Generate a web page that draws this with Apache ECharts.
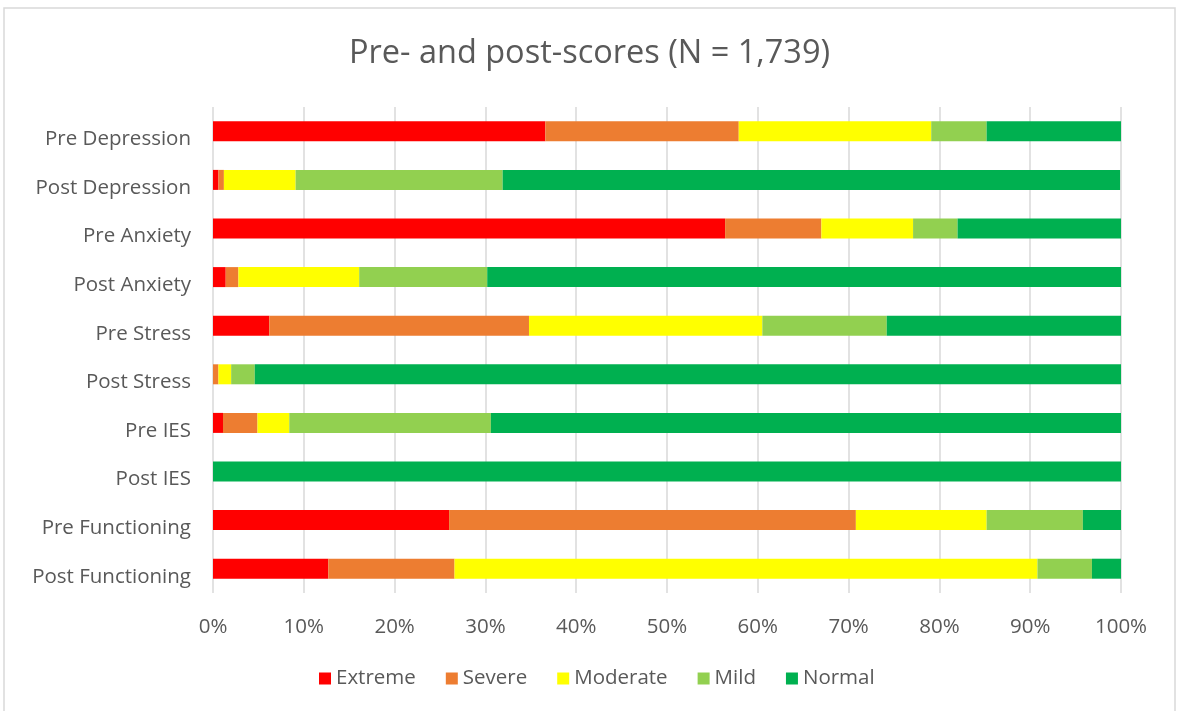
<!DOCTYPE html>
<html>
<head>
<meta charset="utf-8">
<script src="https://cdn.jsdelivr.net/npm/echarts@6/dist/echarts.min.js"></script>
<style>html,body{margin:0;padding:0;background:#fff;}#c{width:1179px;height:711px;}</style>
</head>
<body>
<div id="c"></div>
<script>
const categories = ['Pre Depression','Post Depression','Pre Anxiety','Post Anxiety','Pre Stress','Post Stress','Pre IES','Post IES','Pre Functioning','Post Functioning'];
const extreme  = [36.6, 0.6, 56.4, 1.4, 6.2, 0.0, 1.1, 0, 26.0, 12.7];
const severe   = [21.3, 0.6, 10.6, 1.4, 28.6, 0.6, 3.8, 0, 44.8, 13.9];
const moderate = [21.2, 7.9, 10.1, 13.3, 25.7, 1.4, 3.5, 0, 14.4, 64.2];
const mild     = [6.1, 22.8, 4.9, 14.1, 13.7, 2.6, 22.2, 0, 10.6, 6.0];
const normal   = [14.8, 68.0, 18.0, 69.8, 25.8, 95.4, 69.4, 100, 4.2, 3.2];
const seriesNames = ['Extreme','Severe','Moderate','Mild','Normal'];
const colors = ['#ff0000','#ed7d31','#ffff00','#92d050','#00b050'];
const xTicks = [0,10,20,30,40,50,60,70,80,90,100];

const FONT = 'Open Sans';
const chart = echarts.init(document.getElementById('c'), null, {renderer:'canvas'});
const dataSets = [extreme, severe, moderate, mild, normal];
chart.setOption({
  backgroundColor:'#fff',
  animation:false,
  color: colors,
  title:{text:'Pre- and post-scores (N = 1,739)', left:'center', top:32,
    textStyle:{fontFamily:FONT, fontSize:32.5, fontWeight:'normal', color:'#595959'}},
  graphic:[{type:'rect', shape:{x:4,y:8,width:1171,height:710}, style:{fill:'none', stroke:'#d9d9d9', lineWidth:1.5}, silent:true}],
  legend:{data:seriesNames, bottom:17, left:314, itemWidth:12, itemHeight:12, itemGap:30, icon:'rect',
    textStyle:{fontFamily:FONT, fontSize:20.5, color:'#595959'}},
  grid:{left:213, right:58, top:107, bottom:118, containLabel:false},
  xAxis:{type:'value', min:0, max:100, interval:10,
    axisLabel:{formatter:'{value}%', fontFamily:FONT, fontSize:20.5, color:'#595959', margin:24},
    axisLine:{show:false}, axisTick:{show:false},
    splitLine:{show:true, lineStyle:{color:'#d9d9d9', width:1.5}}},
  yAxis:{type:'category', data:categories, inverse:true,
    axisLabel:{fontFamily:FONT, fontSize:20.5, color:'#595959', margin:22, verticalAlign:'top', lineHeight:16},
    axisLine:{show:false}, axisTick:{show:false}},
  series: seriesNames.map((n,i)=>({name:n, type:'bar', stack:'total', data:dataSets[i], barWidth:20, itemStyle:{color:colors[i]}}))
});
</script>
</body>
</html>
